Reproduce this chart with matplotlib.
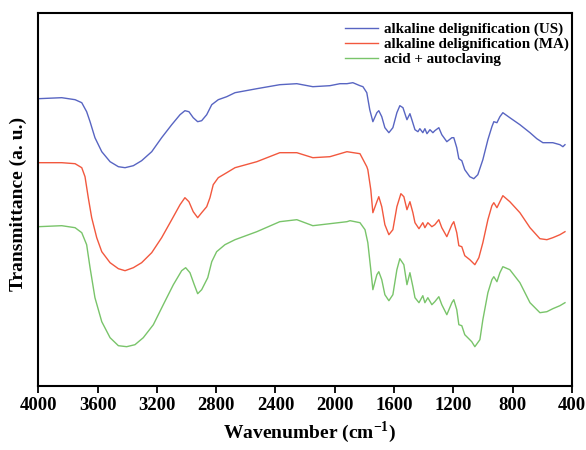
import matplotlib
matplotlib.use("Agg")
import matplotlib.pyplot as plt
from matplotlib.ticker import MultipleLocator

plt.rcParams['font.family'] = ['Liberation Serif', 'DejaVu Serif']
plt.rcParams['font.weight'] = 'bold'
plt.rcParams['mathtext.fontset'] = 'custom'
plt.rcParams['mathtext.rm'] = 'Liberation Serif:bold'
plt.rcParams['mathtext.bf'] = 'Liberation Serif:bold'

us_wn = [4000, 3842, 3752, 3707, 3674, 3651, 3618, 3572, 3516, 3460, 3415, 3359, 3303, 3235, 3168, 3100,
         3044, 3011, 2984, 2955, 2925, 2898, 2864, 2830, 2786, 2729, 2673, 2526, 2371, 2256, 2148, 2033,
         1965, 1918, 1878, 1830, 1810, 1784,
         1764, 1743, 1716, 1703, 1683, 1662, 1635, 1608, 1581, 1561, 1540, 1520, 1513, 1493, 1480, 1459,
         1439, 1426, 1406, 1392, 1378, 1358, 1338, 1325, 1298, 1278, 1244, 1210, 1197, 1177, 1163, 1143,
         1123, 1089, 1062, 1035, 1001, 967, 940, 927, 906, 886, 866, 819, 751, 683, 637, 596, 529, 481,
         461, 447]
us_t = [287, 288, 286, 283, 274, 264, 248, 234, 224, 219, 218, 220, 225, 234, 248, 261,
        271, 275, 274, 268, 264, 265, 271, 281, 286, 289, 293, 297, 301, 302, 299, 300,
        302, 302, 303, 300, 299, 293,
        276, 264, 273, 275, 269, 258, 253, 258, 273, 280, 278, 269, 266, 272, 266, 256,
        254, 257, 253, 257, 252, 256, 253, 255, 258, 251, 244, 248, 248, 238, 227, 225,
        216, 209, 207, 211, 226, 246, 259, 264, 263, 269, 273, 268, 261, 253, 247, 243, 243, 241,
        239, 241]

ma_wn = [4000, 3842, 3752, 3707, 3685, 3663, 3640, 3606, 3572, 3516, 3460, 3415, 3359, 3303, 3235, 3168,
         3100, 3044, 3011, 2984, 2955, 2925, 2898, 2864, 2842, 2820, 2786, 2729, 2673, 2526, 2371, 2256,
         2148, 2033, 1918, 1830, 1784, 1777, 1757, 1743, 1716,
         1703, 1683, 1662, 1635, 1608, 1581, 1554, 1534, 1513, 1493, 1473, 1459, 1432, 1406, 1392, 1372,
         1345, 1325, 1298, 1278, 1244, 1210, 1197, 1177, 1163, 1143, 1123, 1089, 1055, 1028, 1001, 967,
         940, 927, 906, 886, 866, 819, 751, 683, 616, 569, 529, 481, 447]
ma_t = [223, 223, 222, 218, 209, 188, 168, 148, 134, 123, 117, 115, 118, 123, 133, 148,
        166, 181, 188, 184, 174, 168, 173, 179, 188, 201, 208, 213, 218, 224, 233, 233,
        228, 229, 234, 232, 219, 216, 196, 173, 184,
        189, 179, 161, 151, 156, 179, 192, 189, 176, 184, 173, 163, 157, 163, 158, 163,
        159, 161, 166, 158, 149, 161, 164, 153, 140, 139, 130, 126, 121, 128, 143, 166,
        180, 183, 178, 184, 190, 184, 173, 158, 147, 146, 148, 151, 154]

ac_wn = [4000, 3842, 3752, 3707, 3674, 3651, 3618, 3572, 3516, 3460, 3404, 3348, 3292, 3224, 3157, 3089,
         3033, 3006, 2977, 2948, 2925, 2898, 2857, 2830, 2797, 2741, 2673, 2526, 2371, 2256, 2148, 2033,
         1918, 1897, 1830, 1796, 1777, 1757, 1743,
         1716, 1703, 1683, 1662, 1635, 1608, 1581, 1561, 1534, 1513, 1493, 1473, 1459, 1432, 1406, 1392,
         1372, 1345, 1325, 1298, 1278, 1244, 1210, 1197, 1177, 1163, 1143, 1123, 1096, 1076, 1055, 1021,
         1001, 967, 940, 927, 906, 886, 866, 819, 751, 683, 616, 569, 529, 481, 447]
ac_t = [159, 160, 158, 153, 141, 118, 88, 64, 48, 40, 39, 41, 48, 61, 81, 101,
        115, 118, 113, 101, 92, 96, 108, 124, 134, 141, 146, 154, 164, 166, 160, 162,
        164, 165, 163, 156, 143, 116, 96,
        111, 114, 106, 91, 85, 91, 116, 127, 121, 101, 113, 99, 88, 83, 90, 83,
        88, 81, 84, 89, 81, 71, 83, 86, 76, 61, 60, 51, 47, 44, 39, 46,
        66, 93, 106, 109, 104, 113, 119, 116, 103, 83, 73, 74, 77, 80, 83]

labels = ['alkaline delignification (US)', 'alkaline delignification (MA)', 'acid + autoclaving']
colors = ['#5865c2', '#f2583e', '#79c46a']

fig = plt.figure(figsize=(5.86, 4.5), dpi=100)
ax = fig.add_axes([0.0654, 0.1429, 0.976 - 0.0654, 0.9718 - 0.1429])

ax.plot(us_wn, us_t, color=colors[0], lw=1.0, label=labels[0])
ax.plot(ma_wn, ma_t, color=colors[1], lw=1.0, label=labels[1])
ax.plot(ac_wn, ac_t, color=colors[2], lw=1.0, label=labels[2])

ax.set_xlim(4000, 400)
ax.set_ylim(0, 373)
ax.xaxis.set_major_locator(MultipleLocator(400))
ax.set_yticks([])
ax.tick_params(axis='x', direction='out', length=5, width=1.3, labelsize=13.5, pad=3)
for lab in ax.get_xticklabels():
    lab.set_fontweight('bold')
for s in ax.spines.values():
    s.set_linewidth(1.5)

ax.set_xlabel('Wavenumber (cm$^{\\mathbf{-1}}$)', fontsize=14, fontweight='bold', labelpad=4)
ax.xaxis.label.set_x(0.509)
ax.set_ylabel('Transmittance (a. u.)', fontsize=14, fontweight='bold', labelpad=8)
ax.yaxis.label.set_y(0.487)

leg = ax.legend(loc='upper right', bbox_to_anchor=(1.012, 1.0), frameon=False,
                prop={'size': 10.8, 'weight': 'bold'},
                handlelength=2.2, handletextpad=0.4, labelspacing=0.1, borderaxespad=0.3,
                borderpad=0.35)

fig.savefig('out.png', dpi=100)
